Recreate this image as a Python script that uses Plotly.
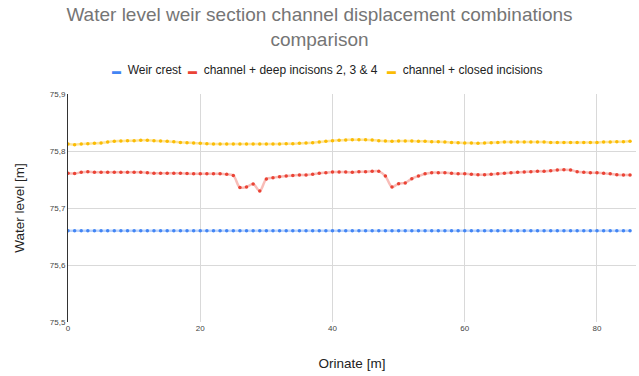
###########################################################
# Water level over the weir section for two channel cases #
###########################################################


# imports
import plotly.graph_objects as go


# data: ordinate along the weir [m] and water levels [m]
orinate = list(range(0, 86))

weir_crest = [75.66] * len(orinate)

deep_incisions = [
    75.761, 75.7605, 75.7626, 75.7637, 75.7626, 75.7626, 75.7626, 75.7626, 75.7626, 75.7626,
    75.7626, 75.7626, 75.762, 75.761, 75.761, 75.761, 75.761, 75.761, 75.7605, 75.760,
    75.760, 75.760, 75.760, 75.760, 75.759, 75.757, 75.736, 75.737, 75.742, 75.730,
    75.751, 75.753, 75.755, 75.756, 75.757, 75.758, 75.758, 75.759, 75.761, 75.762,
    75.763, 75.763, 75.763, 75.7626, 75.7637, 75.7637, 75.7643, 75.7643, 75.756, 75.737,
    75.7427, 75.744, 75.7515, 75.756, 75.760, 75.762, 75.762, 75.762, 75.761, 75.760,
    75.760, 75.759, 75.7585, 75.7585, 75.759, 75.760, 75.761, 75.762, 75.7626, 75.7632,
    75.7637, 75.7643, 75.7643, 75.7655, 75.7667, 75.7673, 75.7667, 75.7637, 75.7626, 75.762,
    75.762, 75.761, 75.760, 75.7585, 75.758, 75.758,
]

closed_incisions = [
    75.8123, 75.811, 75.8123, 75.8129, 75.8135, 75.814, 75.8158, 75.817, 75.8175, 75.818,
    75.818, 75.8187, 75.8187, 75.818, 75.8175, 75.817, 75.8164, 75.815, 75.8146, 75.814,
    75.8135, 75.8129, 75.8123, 75.8123, 75.8123, 75.8123, 75.8123, 75.8123, 75.8123, 75.8123,
    75.8123, 75.8123, 75.8123, 75.8129, 75.8129, 75.8135, 75.814, 75.8146, 75.8158, 75.817,
    75.818, 75.8187, 75.8193, 75.8199, 75.8199, 75.8199, 75.8193, 75.818, 75.8175, 75.817,
    75.8175, 75.8175, 75.8175, 75.817, 75.817, 75.8164, 75.8164, 75.8158, 75.815, 75.8146,
    75.814, 75.814, 75.8135, 75.814, 75.8146, 75.815, 75.8158, 75.8158, 75.8158, 75.8158,
    75.8158, 75.8158, 75.8158, 75.815, 75.815, 75.815, 75.815, 75.815, 75.815, 75.815,
    75.815, 75.8158, 75.8158, 75.8164, 75.8164, 75.817,
]

series_names = ['Weir crest', 'channel + deep incisons 2, 3 & 4', 'channel + closed incisions']
series_colors = ['#4285F4', '#EA4335', '#FBBC04']
series_fades = ['rgba(66,133,244,0.35)', 'rgba(234,67,53,0.35)', 'rgba(251,188,4,0.4)']

y_ticks = [75.5, 75.6, 75.7, 75.8, 75.9]
x_ticks = [0, 20, 40, 60, 80]

# where each legend entry starts (paper fraction of the plot width)
legend_x = [0.0735, 0.2075, 0.5575]


fig = go.Figure()

for name, values, color, fade, lx in zip(series_names,
                                         [weir_crest, deep_incisions, closed_incisions],
                                         series_colors, series_fades, legend_x):
    # pale smoothed line behind the points
    fig.add_trace(go.Scatter(x=orinate, y=values, mode='lines', showlegend=False,
                             line=dict(color=fade, width=2.5, shape='spline', smoothing=1),
                             hoverinfo='skip'))
    # the measured points
    fig.add_trace(go.Scatter(x=orinate, y=values, mode='markers', name=name, showlegend=False,
                             marker=dict(color=color, size=3.5)))
    # legend entry: short coloured dash + label, Google Sheets style
    fig.add_annotation(xref='paper', yref='paper', x=lx, y=1.105,
                       xanchor='left', yanchor='middle', showarrow=False,
                       text="<span style='font-size:9px;color:{}'>▬</span>  {}".format(color, name),
                       font=dict(size=12, color='#222222'))

fig.update_layout(
    width=639, height=376,
    separators=',.',
    showlegend=False,
    paper_bgcolor='white', plot_bgcolor='white',
    font=dict(family='Liberation Sans, Arial, sans-serif', color='#222222'),
    margin=dict(l=68, r=3, t=94, b=54),
    title=dict(text='Water level weir section channel displacement combinations<br>comparison',
               x=0.5, xanchor='center', y=0.943, yanchor='top',
               font=dict(size=19, color='#757575')),
)

fig.update_xaxes(range=[0, 85.9], tickvals=x_ticks, showgrid=True, gridcolor='#d9d9d9',
                 zeroline=False, showline=False, ticks='',
                 tickfont=dict(size=8, color='#444444'),
                 title=dict(text='Orinate [m]', font=dict(size=13.5, color='#222222'), standoff=26))
fig.update_yaxes(range=[75.5, 75.9], tickvals=y_ticks, tickformat='.1f', showgrid=True,
                 gridcolor='#d9d9d9', zeroline=False, showline=True, linecolor='#333333',
                 linewidth=1, ticks='', tickfont=dict(size=8, color='#444444'),
                 title=dict(text='Water level [m]', font=dict(size=13.5, color='#222222'), standoff=22))

fig.write_html("out.html", config={'displayModeBar': False},
               post_script="document.body.style.margin='0';")
